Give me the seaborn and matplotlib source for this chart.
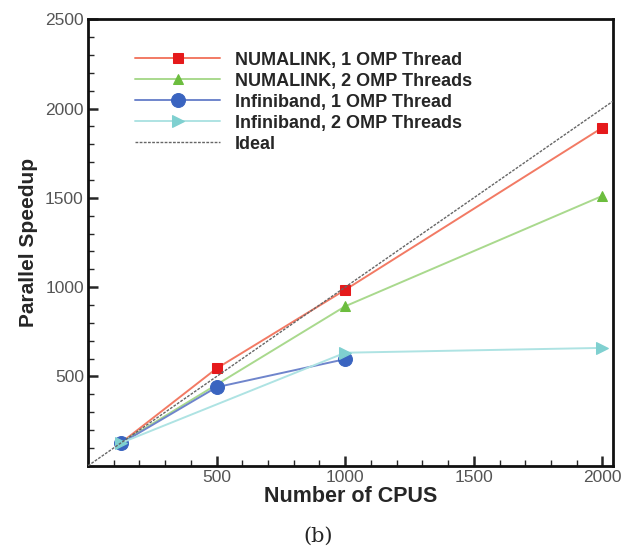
import matplotlib
matplotlib.use("Agg")
import matplotlib.pyplot as plt
import seaborn as sns
import pandas as pd
from matplotlib.ticker import MultipleLocator

sns.set_style("ticks")
plt.rcParams['font.family'] = ['Liberation Sans', 'DejaVu Sans']

numa1_x = [128, 500, 1000, 2000]
numa1_y = [128, 545, 985, 1893]
numa2_x = [128, 1000, 2000]
numa2_y = [128, 893, 1511]
ib1_x = [128, 500, 1000]
ib1_y = [125, 440, 597]
ib2_x = [128, 1000, 2000]
ib2_y = [128, 633, 660]
ideal_x = [0, 2040]
ideal_y = [0, 2040]

labels = ["NUMALINK, 1 OMP Thread", "NUMALINK, 2 OMP Threads",
          "Infiniband, 1 OMP Thread", "Infiniband, 2 OMP Threads", "Ideal"]

fig = plt.figure(figsize=(6.33, 5.48), dpi=100)
ax = fig.add_axes([0.139, 0.150, 0.829, 0.815])

styles = [
    (numa1_x, numa1_y, "#f27a64", "#e5191b", "s", 7),
    (numa2_x, numa2_y, "#a9d98d", "#6cbd3e", "^", 7),
    (ib1_x, ib1_y, "#6f85cc", "#3a64c0", "o", 10),
    (ib2_x, ib2_y, "#aee3e3", "#7fd0d0", ">", 8),
]

sns.lineplot(x=ideal_x, y=ideal_y, ax=ax, color="#666666", lw=1.0,
             linestyle=(0, (2, 1)), label=labels[4], zorder=5)
for (xs, ys, lc, mc, mk, ms), lab in zip(styles, labels[:4]):
    sns.lineplot(x=xs, y=ys, ax=ax, color=lc, lw=1.4, marker=mk, markersize=ms,
                 markerfacecolor=mc, markeredgecolor=mc, label=lab, zorder=3)

h, l = ax.get_legend_handles_labels()
order = [1, 2, 3, 4, 0]
ax.legend([h[i] for i in order], [l[i] for i in order], loc="upper left",
          bbox_to_anchor=(0.09, 0.927), frameon=False, handlelength=4.7,
          handletextpad=0.8, labelspacing=0.22, borderaxespad=0, borderpad=0,
          prop={"weight": "bold", "size": 13})

ax.set_xlim(0, 2040)
ax.set_ylim(0, 2500)
ax.xaxis.set_major_locator(MultipleLocator(500))
ax.xaxis.set_minor_locator(MultipleLocator(100))
ax.yaxis.set_major_locator(MultipleLocator(500))
ax.yaxis.set_minor_locator(MultipleLocator(100))
ax.set_xticks([500, 1000, 1500, 2000])
ax.set_yticks([500, 1000, 1500, 2000, 2500])
ax.tick_params(which="major", direction="in", length=7, width=1.8, labelsize=12.5,
               labelcolor="#555555", top=False, right=False, pad=3)
ax.tick_params(which="minor", direction="in", length=4, width=1.0)
for s in ax.spines.values():
    s.set_linewidth(2.0)
    s.set_color("#111111")
ax.set_xlabel("Number of CPUS", fontsize=15.5, fontweight="bold", labelpad=1)
ax.set_ylabel("Parallel Speedup", fontsize=15, fontweight="bold", labelpad=5)

fig.text(0.502, 0.012, "(b)", family="DejaVu Serif", fontsize=15, ha="center")

fig.savefig("out.png", dpi=100)
